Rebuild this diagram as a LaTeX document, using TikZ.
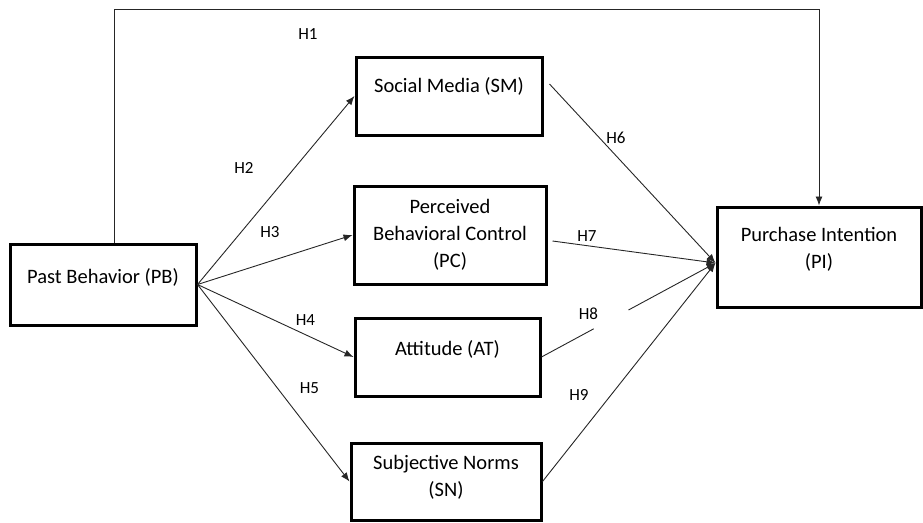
\documentclass[tikz,border=0pt]{standalone}
\usepackage{fontspec}
\setmainfont{Carlito}
\usetikzlibrary{arrows.meta,calc}
\begin{document}
\begin{tikzpicture}[x=1pt,y=-1pt,
  box/.style={draw=black,line width=3pt,align=center,inner sep=2pt,
    font=\fontsize{20.5}{27}\selectfont},
  hlabel/.style={font=\fontsize{17}{20}\selectfont},
  arr/.style={-{Latex[length=9pt,width=7pt]},line width=0.9pt,color=black!85}]
\useasboundingbox (0,0) rectangle (923,522);

% constructs
\node[box,minimum width=186pt,minimum height=81pt,text depth=17pt] (PB) at (103,284.5) {Past Behavior (PB)};
\node[box,minimum width=186pt,minimum height=78pt,text depth=21pt] (SM) at (449,96) {Social Media (SM)};
\node[box,minimum width=192pt,minimum height=98pt] (PC) at (450,235) {Perceived\\Behavioral Control\\(PC)};
\node[box,minimum width=185pt,minimum height=78pt,text depth=18pt] (AT) at (447.5,357) {Attitude (AT)};
\node[box,minimum width=190pt,minimum height=77pt,text depth=11pt] (SN) at (446,481.5) {Subjective Norms\\(SN)};
\node[box,minimum width=204pt,minimum height=100pt,text depth=18pt] (PI) at (819,257) {Purchase Intention\\(PI)};

\coordinate (top) at (0,9);
\coordinate (PIin) at ([yshift=-6pt]PI.west);

% H1
\draw[arr] ([xshift=11pt]PB.north) |- (top -| PI.north) -- (PI.north);

% H2 - H5
\draw[arr] (PB.east) -- (SM.west);
\draw[arr] (PB.east) -- (PC.west);
\draw[arr] (PB.east) -- (AT.west);
\draw[arr] (PB.east) -- (SN.west);

% H6 - H9
\draw[arr] ([shift={(6pt,12pt)}]SM.east) -- (PIin);
\draw[arr] ([shift={(5pt,-6pt)}]PC.east) -- (PIin);
\draw[line width=0.9pt,color=black!85] (AT.east) -- ($(AT.east)!0.3!(PIin)$);
\draw[arr] ($(AT.east)!0.5!(PIin)$) -- (PIin);
\draw[arr] (SN.east) -- (PIin);

\node[hlabel] (h1) at (308,34) {H1};
\node[hlabel] (h2) at (244,167.5) {H2};
\node[hlabel] (h3) at (270,232.5) {H3};
\node[hlabel] (h4) at (305.5,320.5) {H4};
\node[hlabel] (h5) at (309.5,388) {H5};
\node[hlabel] (h6) at (616,137.5) {H6};
\node[hlabel] (h7) at (587,236) {H7};
\node[hlabel] (h8) at (588.5,314) {H8};
\node[hlabel] (h9) at (579,395) {H9};

\end{tikzpicture}
\end{document}
